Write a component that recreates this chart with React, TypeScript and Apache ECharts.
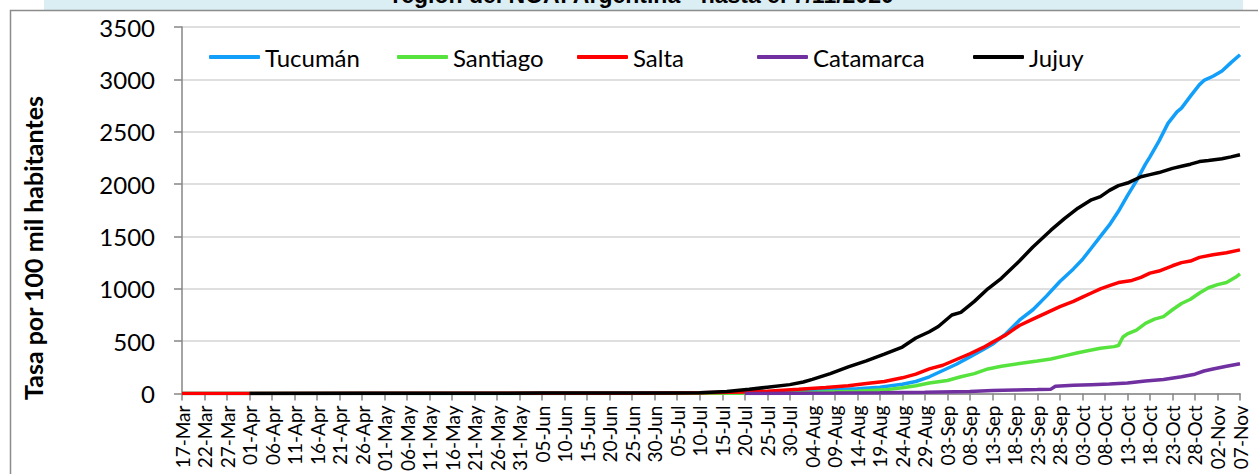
import React, { useEffect, useRef } from "react";
import * as echarts from "echarts";

const MONTHS = ["Jan","Feb","Mar","Apr","May","Jun","Jul","Aug","Sep","Oct","Nov","Dec"];
const START = { year: 2020, month: 2, day: 17 };
const DAY_COUNT = 236; // 17-Mar .. 07-Nov

const categories: string[] = [];
for (let i = 0; i < DAY_COUNT; i++) {
  const d = new Date(Date.UTC(START.year, START.month, START.day + i));
  categories.push(String(d.getUTCDate()).padStart(2, "0") + "-" + MONTHS[d.getUTCMonth()]);
}

const yTicks = [0, 500, 1000, 1500, 2000, 2500, 3000, 3500];

// [day index, value]
const tucuman = [[0,0],[60,1],[100,2],[110,3],[120,5],[130,12],[140,25],[145,35],[150,45],[155,60],[160,88],[163,115],[166,160],[169,220],[172,280],[175,350],[178,420],[180,470],[183,570],[186,700],[189,800],[192,930],[195,1070],[198,1190],[200,1280],[202,1390],[204,1500],[206,1610],[208,1740],[210,1890],[212,2030],[214,2190],[215,2260],[217,2410],[219,2580],[221,2690],[222,2725],[224,2840],[226,2950],[227,2990],[229,3030],[231,3080],[233,3160],[235,3235]];
const santiago = [[0,0],[100,1],[120,3],[130,6],[141,12],[150,22],[156,35],[160,55],[163,75],[166,100],[170,125],[173,160],[176,190],[179,235],[182,260],[186,287],[190,310],[193,330],[196,360],[199,390],[202,415],[204,432],[207,448],[208,458],[209,540],[210,570],[212,605],[214,670],[216,710],[218,735],[220,800],[222,860],[224,900],[226,960],[228,1010],[230,1040],[232,1060],[234,1110],[235,1142]];
const salta = [[0,0],[100,3],[115,8],[125,15],[130,22],[137,40],[143,58],[148,75],[152,95],[156,115],[160,150],[163,185],[166,235],[169,270],[172,325],[175,380],[178,440],[180,490],[183,560],[186,650],[189,710],[192,770],[195,830],[198,880],[200,920],[202,960],[204,1000],[206,1030],[208,1060],[211,1080],[213,1110],[215,1150],[217,1170],[220,1220],[222,1250],[224,1265],[226,1300],[229,1325],[232,1345],[235,1372]];
const catamarca = [[125,0],[135,2],[145,4],[155,7],[165,12],[175,20],[180,28],[185,33],[190,38],[193,42],[194,70],[198,78],[202,85],[206,92],[210,100],[214,120],[218,135],[222,160],[225,185],[227,215],[229,235],[232,260],[235,285]];
const jujuy = [[15,1],[40,2],[60,3],[80,4],[100,5],[108,6],[115,8],[121,19],[126,40],[130,60],[135,85],[138,110],[140,135],[144,190],[148,255],[152,312],[156,376],[160,444],[163,530],[166,590],[168,640],[171,750],[173,775],[176,880],[179,1000],[182,1100],[186,1265],[189,1400],[193,1560],[196,1670],[199,1770],[202,1850],[204,1880],[206,1940],[208,1985],[210,2010],[213,2070],[215,2090],[217,2110],[220,2150],[222,2170],[224,2190],[226,2215],[228,2225],[231,2242],[233,2260],[235,2280]];

const seriesDefs = [
  { name: "Tucumán", data: tucuman, color: "#119FFA" },
  { name: "Santiago", data: santiago, color: "#57E33E" },
  { name: "Salta", data: salta, color: "#FF0000" },
  { name: "Catamarca", data: catamarca, color: "#7030A0" },
  { name: "Jujuy", data: jujuy, color: "#000000" },
];
const legendLefts = [209, 397, 577, 757, 973];

const TITLE = "región del NOA: Argentina - hasta el 7/11/2020";
const Y_NAME = "Tasa por 100 mil habitantes";
const FONT = "Lato, 'Open Sans', sans-serif";

export default function App() {
  const ref = useRef<HTMLDivElement>(null);
  useEffect(() => {
    if (!ref.current) return;
    const chart = echarts.init(ref.current, null, { renderer: "svg" });
    chart.setOption({
      animation: false,
      backgroundColor: "#ffffff",
      textStyle: { fontFamily: FONT },
      grid: { left: 182, width: 1058, top: 27, height: 370, containLabel: false },
      legend: seriesDefs.map((s, i) => ({
        left: legendLefts[i],
        top: 45,
        padding: 0,
        icon: "roundRect",
        itemWidth: 51,
        itemHeight: 4,
        textStyle: { fontSize: 24, color: "#000", fontFamily: FONT },
        data: [s.name],
      })),
      xAxis: {
        type: "category",
        data: categories,
        boundaryGap: false,
        axisLine: { lineStyle: { color: "#868686", width: 1.5 } },
        axisTick: { show: true, interval: 4, length: 7, lineStyle: { color: "#868686", width: 1.5 } },
        axisLabel: { interval: 4, rotate: 90, margin: 12, fontSize: 19, color: "#000", fontFamily: FONT },
        splitLine: { show: false },
      },
      yAxis: {
        type: "value",
        min: yTicks[0],
        max: yTicks[yTicks.length - 1],
        interval: 500,
        axisLine: { show: true, lineStyle: { color: "#868686", width: 1.5 } },
        axisTick: { show: true, length: 8, lineStyle: { color: "#868686", width: 1.5 } },
        axisLabel: { margin: 27, fontSize: 24, color: "#000", fontFamily: FONT, formatter: (v: number) => String(v) },
        splitLine: { lineStyle: { color: "#D4D4D4", width: 1.5 } },
      },
      series: seriesDefs.map((s) => ({
        name: s.name,
        type: "line",
        data: s.data,
        symbol: "none",
        showSymbol: false,
        smooth: false,
        color: s.color,
        lineStyle: { color: s.color, width: 3.5 },
        itemStyle: { color: s.color },
      })),
      graphic: [
        { type: "rect", shape: { x: 44, y: 0, width: 1199, height: 10 }, style: { fill: "#DAEEF3" }, z: 0 },
        {
          type: "text",
          x: 643,
          y: 6,
          style: { text: TITLE, font: "bold 23px 'Liberation Sans', Arial, sans-serif", fill: "#000", textAlign: "center", textVerticalAlign: "bottom" },
          z: 1,
        },
        { type: "polyline", shape: { points: [[10.5, 474], [10.5, 10.5], [1258, 10.5]] }, style: { stroke: "#8C8C8C", lineWidth: 1.5, fill: "none" }, z: 2 },
        {
          type: "text",
          x: 33,
          y: 248,
          rotation: Math.PI / 2,
          style: { text: Y_NAME, font: "bold 25px Lato, sans-serif", fill: "#000", textAlign: "center", textVerticalAlign: "middle" },
          z: 2,
        },
      ],
    });
    return () => chart.dispose();
  }, []);
  return <div ref={ref} style={{ position: "absolute", left: 0, top: 0, width: 1258, height: 474 }} />;
}
